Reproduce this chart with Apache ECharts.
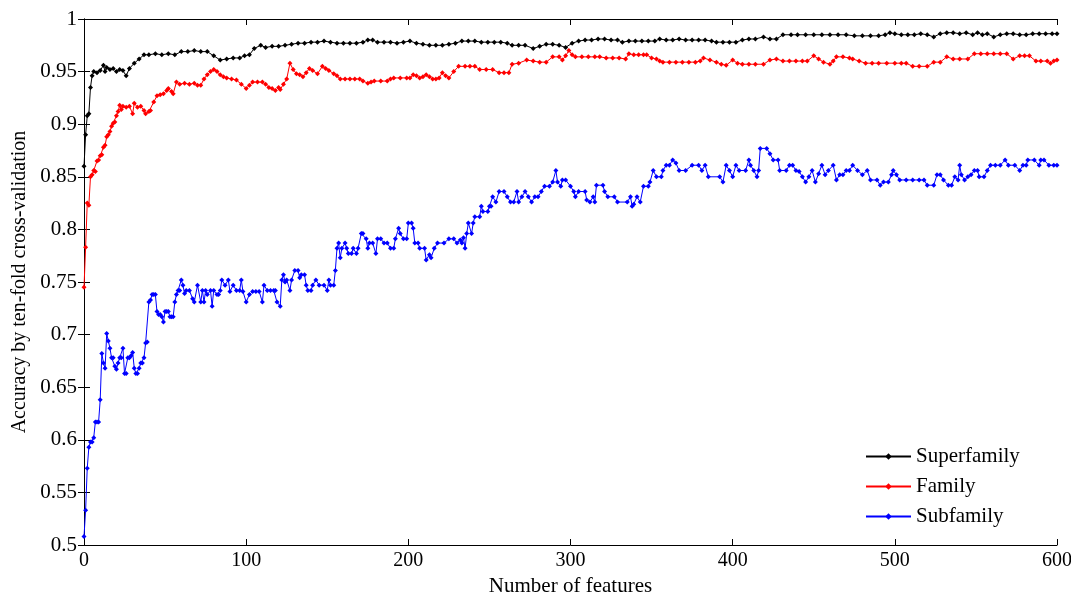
<!DOCTYPE html>
<html>
<head>
<meta charset="utf-8">
<script src="https://cdn.jsdelivr.net/npm/echarts@6/dist/echarts.min.js"></script>
<style>
  html, body { margin: 0; padding: 0; background: #fff; }
  #chart { width: 1071px; height: 595px; }
</style>
</head>
<body>
<div id="chart"></div>
<script>
// values: [number of features, accuracy]
var superfamily = [
  [0,0.860],[1,0.890],[2,0.908],[3,0.910],[4,0.935],[5,0.946],[6,0.950],[8,0.949],[10,0.951],[12,0.956],[13,0.950],[14,0.954],[16,0.952],[18,0.953],[20,0.950],[22,0.952],[24,0.951],[26,0.946],[28,0.953],[31,0.958],[34,0.962],[37,0.966],[40,0.966],[44,0.967],[48,0.966],[52,0.967],[56,0.966],[60,0.969],[64,0.969],[68,0.970],[72,0.969],[76,0.969],[80,0.965],[84,0.961],[88,0.962],[92,0.963],[96,0.963],[99,0.965],[102,0.966],[105,0.972],[109,0.975],[112,0.973],[116,0.974],[120,0.974],[124,0.975],[128,0.976],[132,0.977],[136,0.977],[140,0.978],[144,0.978],[148,0.979],[152,0.978],[156,0.977],[160,0.977],[164,0.977],[168,0.977],[172,0.978],[175,0.980],[178,0.980],[181,0.978],[185,0.978],[189,0.978],[193,0.977],[197,0.978],[201,0.979],[205,0.977],[209,0.976],[213,0.975],[217,0.975],[221,0.975],[225,0.976],[229,0.977],[233,0.979],[237,0.979],[241,0.979],[245,0.978],[249,0.978],[253,0.978],[257,0.978],[261,0.977],[264,0.975],[268,0.975],[272,0.975],[277,0.972],[281,0.974],[285,0.976],[289,0.976],[293,0.975],[297,0.973],[301,0.977],[305,0.979],[309,0.980],[313,0.980],[317,0.981],[321,0.981],[325,0.980],[329,0.980],[332,0.978],[336,0.979],[340,0.979],[344,0.979],[348,0.979],[352,0.979],[355,0.981],[359,0.980],[363,0.980],[367,0.981],[371,0.980],[375,0.980],[379,0.980],[383,0.980],[387,0.979],[390,0.978],[394,0.978],[398,0.978],[402,0.978],[406,0.980],[410,0.981],[414,0.981],[419,0.983],[423,0.981],[427,0.981],[431,0.985],[436,0.985],[440,0.985],[445,0.985],[450,0.985],[455,0.985],[460,0.985],[465,0.985],[470,0.985],[475,0.984],[480,0.984],[485,0.984],[490,0.984],[494,0.985],[497,0.987],[500,0.986],[504,0.985],[508,0.985],[512,0.985],[516,0.986],[520,0.985],[524,0.983],[528,0.986],[532,0.987],[536,0.987],[540,0.986],[544,0.987],[548,0.985],[551,0.987],[554,0.985],[557,0.986],[561,0.983],[565,0.985],[569,0.986],[573,0.986],[577,0.985],[581,0.985],[585,0.986],[589,0.986],[593,0.986],[597,0.986],[600,0.986]
];

var family = [
  [0,0.745],[1,0.783],[2,0.825],[3,0.823],[4,0.850],[5,0.852],[6,0.856],[7,0.855],[8,0.865],[9,0.866],[10,0.870],[11,0.871],[12,0.878],[13,0.880],[14,0.888],[15,0.890],[16,0.893],[17,0.898],[18,0.901],[19,0.902],[20,0.908],[21,0.912],[22,0.918],[23,0.914],[24,0.917],[26,0.916],[28,0.917],[30,0.910],[31,0.920],[33,0.916],[35,0.917],[37,0.913],[38,0.910],[40,0.912],[41,0.913],[43,0.921],[45,0.927],[47,0.928],[49,0.929],[51,0.932],[52,0.934],[54,0.931],[55,0.929],[57,0.940],[59,0.938],[62,0.939],[65,0.938],[68,0.939],[70,0.937],[72,0.937],[74,0.943],[76,0.947],[78,0.950],[80,0.952],[82,0.950],[84,0.947],[86,0.945],[88,0.944],[91,0.943],[94,0.942],[97,0.938],[100,0.934],[102,0.937],[104,0.940],[107,0.940],[110,0.940],[112,0.938],[114,0.935],[116,0.934],[118,0.932],[120,0.935],[121,0.933],[123,0.938],[125,0.943],[127,0.958],[129,0.952],[131,0.948],[133,0.947],[135,0.945],[137,0.949],[139,0.953],[141,0.951],[144,0.948],[147,0.955],[149,0.953],[151,0.951],[154,0.948],[156,0.946],[158,0.943],[161,0.943],[164,0.943],[167,0.943],[170,0.943],[172,0.941],[175,0.939],[177,0.940],[179,0.941],[183,0.941],[187,0.941],[189,0.943],[191,0.944],[195,0.944],[199,0.944],[201,0.944],[203,0.947],[205,0.946],[207,0.944],[209,0.945],[211,0.947],[213,0.945],[215,0.943],[217,0.943],[219,0.944],[221,0.949],[223,0.946],[225,0.944],[228,0.950],[231,0.955],[235,0.955],[238,0.955],[241,0.955],[244,0.952],[248,0.952],[252,0.952],[256,0.949],[259,0.949],[262,0.949],[264,0.957],[268,0.958],[273,0.961],[277,0.960],[281,0.959],[285,0.959],[289,0.964],[293,0.964],[295,0.961],[297,0.965],[299,0.970],[301,0.966],[303,0.964],[307,0.964],[311,0.964],[315,0.964],[318,0.964],[322,0.963],[326,0.963],[330,0.963],[334,0.962],[336,0.967],[339,0.966],[342,0.966],[345,0.966],[347,0.966],[350,0.963],[353,0.962],[355,0.960],[357,0.959],[361,0.959],[365,0.959],[369,0.959],[373,0.959],[377,0.959],[380,0.960],[382,0.963],[386,0.961],[390,0.959],[393,0.957],[396,0.956],[400,0.961],[403,0.958],[406,0.957],[410,0.957],[414,0.957],[419,0.957],[423,0.961],[427,0.962],[431,0.960],[435,0.960],[439,0.960],[443,0.960],[446,0.960],[450,0.965],[453,0.962],[456,0.959],[460,0.957],[462,0.960],[464,0.964],[468,0.964],[472,0.963],[474,0.962],[478,0.960],[482,0.958],[486,0.958],[490,0.958],[495,0.958],[500,0.958],[504,0.958],[507,0.958],[511,0.955],[515,0.955],[520,0.955],[524,0.959],[528,0.959],[532,0.964],[536,0.962],[540,0.962],[545,0.962],[549,0.967],[553,0.967],[557,0.967],[561,0.967],[565,0.967],[569,0.967],[573,0.962],[577,0.965],[580,0.965],[583,0.965],[587,0.960],[590,0.960],[594,0.960],[596,0.958],[598,0.960],[600,0.961]
];

var subfamily = [
  [0,0.508],[1,0.533],[2,0.573],[3,0.593],[4,0.598],[5,0.598],[6,0.602],[7,0.617],[8,0.617],[9,0.617],[10,0.638],[11,0.682],[12,0.673],[13,0.668],[14,0.701],[15,0.694],[16,0.687],[17,0.678],[18,0.678],[19,0.670],[20,0.667],[21,0.673],[22,0.678],[23,0.678],[24,0.687],[25,0.663],[26,0.663],[27,0.678],[28,0.678],[29,0.680],[30,0.683],[31,0.668],[32,0.663],[33,0.663],[34,0.668],[35,0.673],[36,0.673],[37,0.678],[38,0.692],[39,0.693],[40,0.731],[41,0.733],[42,0.738],[43,0.738],[44,0.738],[45,0.722],[46,0.719],[47,0.719],[48,0.717],[49,0.712],[50,0.722],[51,0.722],[52,0.722],[53,0.717],[54,0.717],[55,0.717],[56,0.731],[57,0.738],[58,0.742],[59,0.742],[60,0.752],[61,0.747],[62,0.739],[63,0.742],[65,0.742],[67,0.734],[68,0.731],[70,0.747],[72,0.731],[73,0.742],[74,0.731],[75,0.742],[76,0.738],[78,0.742],[79,0.727],[80,0.742],[82,0.738],[83,0.738],[84,0.742],[85,0.752],[87,0.747],[89,0.752],[90,0.741],[92,0.747],[94,0.742],[96,0.742],[97,0.752],[98,0.741],[100,0.731],[102,0.738],[104,0.741],[106,0.741],[108,0.741],[110,0.731],[111,0.747],[113,0.742],[115,0.742],[117,0.742],[118,0.742],[119,0.731],[121,0.727],[122,0.752],[123,0.757],[124,0.750],[125,0.752],[127,0.742],[128,0.752],[130,0.761],[132,0.761],[133,0.754],[134,0.757],[136,0.757],[137,0.747],[138,0.742],[140,0.742],[141,0.747],[143,0.752],[145,0.747],[148,0.747],[150,0.742],[151,0.752],[152,0.747],[154,0.747],[155,0.761],[156,0.782],[157,0.787],[158,0.773],[159,0.782],[161,0.787],[162,0.782],[163,0.777],[165,0.777],[166,0.782],[168,0.777],[169,0.782],[171,0.796],[172,0.796],[174,0.791],[175,0.782],[176,0.787],[178,0.787],[180,0.777],[181,0.791],[183,0.791],[185,0.787],[187,0.787],[189,0.782],[191,0.782],[192,0.791],[194,0.801],[195,0.796],[197,0.791],[199,0.791],[200,0.806],[202,0.806],[203,0.801],[204,0.787],[206,0.787],[207,0.782],[210,0.782],[211,0.771],[213,0.776],[214,0.773],[216,0.782],[218,0.787],[222,0.787],[225,0.791],[228,0.791],[230,0.787],[232,0.790],[233,0.787],[234,0.792],[235,0.782],[236,0.796],[237,0.806],[239,0.796],[240,0.806],[241,0.812],[244,0.812],[245,0.822],[246,0.817],[249,0.817],[250,0.822],[251,0.822],[252,0.831],[254,0.826],[256,0.836],[259,0.836],[261,0.831],[263,0.826],[265,0.826],[267,0.836],[268,0.826],[270,0.831],[272,0.836],[274,0.831],[276,0.826],[278,0.831],[280,0.831],[282,0.836],[284,0.841],[287,0.841],[289,0.845],[291,0.856],[292,0.845],[294,0.841],[295,0.847],[297,0.847],[300,0.841],[302,0.836],[303,0.831],[305,0.836],[309,0.836],[310,0.828],[312,0.826],[314,0.831],[315,0.826],[316,0.842],[320,0.842],[321,0.836],[323,0.831],[327,0.831],[329,0.826],[335,0.826],[337,0.831],[338,0.822],[339,0.824],[341,0.831],[343,0.826],[345,0.841],[348,0.841],[349,0.845],[351,0.856],[353,0.850],[356,0.850],[357,0.856],[359,0.861],[361,0.861],[363,0.866],[365,0.863],[367,0.856],[371,0.856],[375,0.861],[379,0.861],[381,0.856],[383,0.861],[385,0.850],[392,0.850],[394,0.845],[396,0.861],[398,0.856],[400,0.850],[402,0.861],[404,0.856],[408,0.856],[410,0.866],[411,0.861],[413,0.856],[415,0.850],[416,0.856],[417,0.877],[421,0.877],[423,0.872],[425,0.866],[428,0.866],[429,0.856],[433,0.856],[435,0.861],[437,0.861],[439,0.856],[441,0.855],[443,0.850],[445,0.845],[447,0.850],[449,0.856],[451,0.845],[453,0.853],[455,0.861],[457,0.852],[459,0.856],[462,0.861],[464,0.847],[466,0.852],[468,0.852],[470,0.856],[472,0.856],[474,0.861],[477,0.856],[480,0.852],[483,0.856],[485,0.847],[489,0.847],[491,0.842],[493,0.845],[496,0.845],[498,0.852],[499,0.856],[501,0.852],[503,0.847],[507,0.847],[511,0.847],[515,0.847],[518,0.847],[520,0.842],[524,0.842],[526,0.852],[528,0.852],[530,0.847],[533,0.842],[535,0.842],[537,0.850],[539,0.847],[540,0.861],[541,0.852],[543,0.847],[545,0.850],[547,0.852],[549,0.856],[551,0.856],[552,0.850],[555,0.850],[557,0.856],[559,0.861],[562,0.861],[565,0.861],[568,0.866],[570,0.861],[574,0.861],[577,0.856],[579,0.861],[581,0.861],[582,0.866],[586,0.866],[589,0.861],[590,0.866],[592,0.866],[595,0.861],[598,0.861],[600,0.861]
];

var seriesNames = ['Superfamily', 'Family', 'Subfamily'];
var seriesColors = ['#000000', '#ff0000', '#0000ff'];
var seriesData = [superfamily, family, subfamily];

var font = 'Liberation Serif';
var chart = echarts.init(document.getElementById('chart'));

function makeSeries(i) {
    return {
        name: seriesNames[i],
        type: 'line',
        data: seriesData[i],
        symbol: 'diamond',
        symbolSize: 5,
        showSymbol: true,
        showAllSymbol: true,
        lineStyle: { width: 1, color: seriesColors[i] },
        itemStyle: { color: seriesColors[i] },
        z: 3 - i
    };
}

var tickStyle = { inside: true, length: 6, lineStyle: { color: '#000', width: 1 } };

var option = {
    animation: false,
    backgroundColor: '#fff',
    grid: { left: 84, right: 14, top: 19, bottom: 50, containLabel: false, outerBoundsMode: 'none' },
    legend: {
        orient: 'vertical',
        left: 865,
        top: 446,
        padding: 0,
        itemWidth: 45,
        itemHeight: 8,
        itemGap: 9,
        data: seriesNames,
        textStyle: { fontFamily: font, fontSize: 21, color: '#000' }
    },
    xAxis: [{
        type: 'value',
        min: 0, max: 600, interval: 100,
        name: 'Number of features',
        nameLocation: 'middle',
        nameGap: 27,
        nameTextStyle: { fontFamily: font, fontSize: 21, color: '#000' },
        axisLine: { lineStyle: { color: '#000', width: 1 } },
        axisTick: tickStyle,
        axisLabel: { fontFamily: font, fontSize: 20, color: '#000', margin: 6 },
        splitLine: { show: false }
    }, {
        type: 'value', position: 'top',
        min: 0, max: 600, interval: 100,
        axisLine: { lineStyle: { color: '#000', width: 1 } },
        axisTick: tickStyle,
        axisLabel: { show: false },
        splitLine: { show: false }
    }],
    yAxis: [{
        type: 'value',
        min: 0.5, max: 1, interval: 0.05,
        name: 'Accuracy by ten-fold cross-validation',
        nameLocation: 'middle',
        nameGap: 54,
        nameTextStyle: { fontFamily: font, fontSize: 20, color: '#000' },
        axisLine: { show: true, lineStyle: { color: '#000', width: 1 } },
        axisTick: tickStyle,
        axisLabel: { fontFamily: font, fontSize: 21, color: '#000', margin: 7 },
        splitLine: { show: false }
    }, {
        type: 'value', position: 'right',
        min: 0.5, max: 1, interval: 0.05,
        axisLine: { show: true, lineStyle: { color: '#000', width: 1 } },
        axisTick: tickStyle,
        axisLabel: { show: false },
        splitLine: { show: false }
    }],
    series: [makeSeries(0), makeSeries(1), makeSeries(2)]
};

chart.setOption(option);
</script>
</body>
</html>
